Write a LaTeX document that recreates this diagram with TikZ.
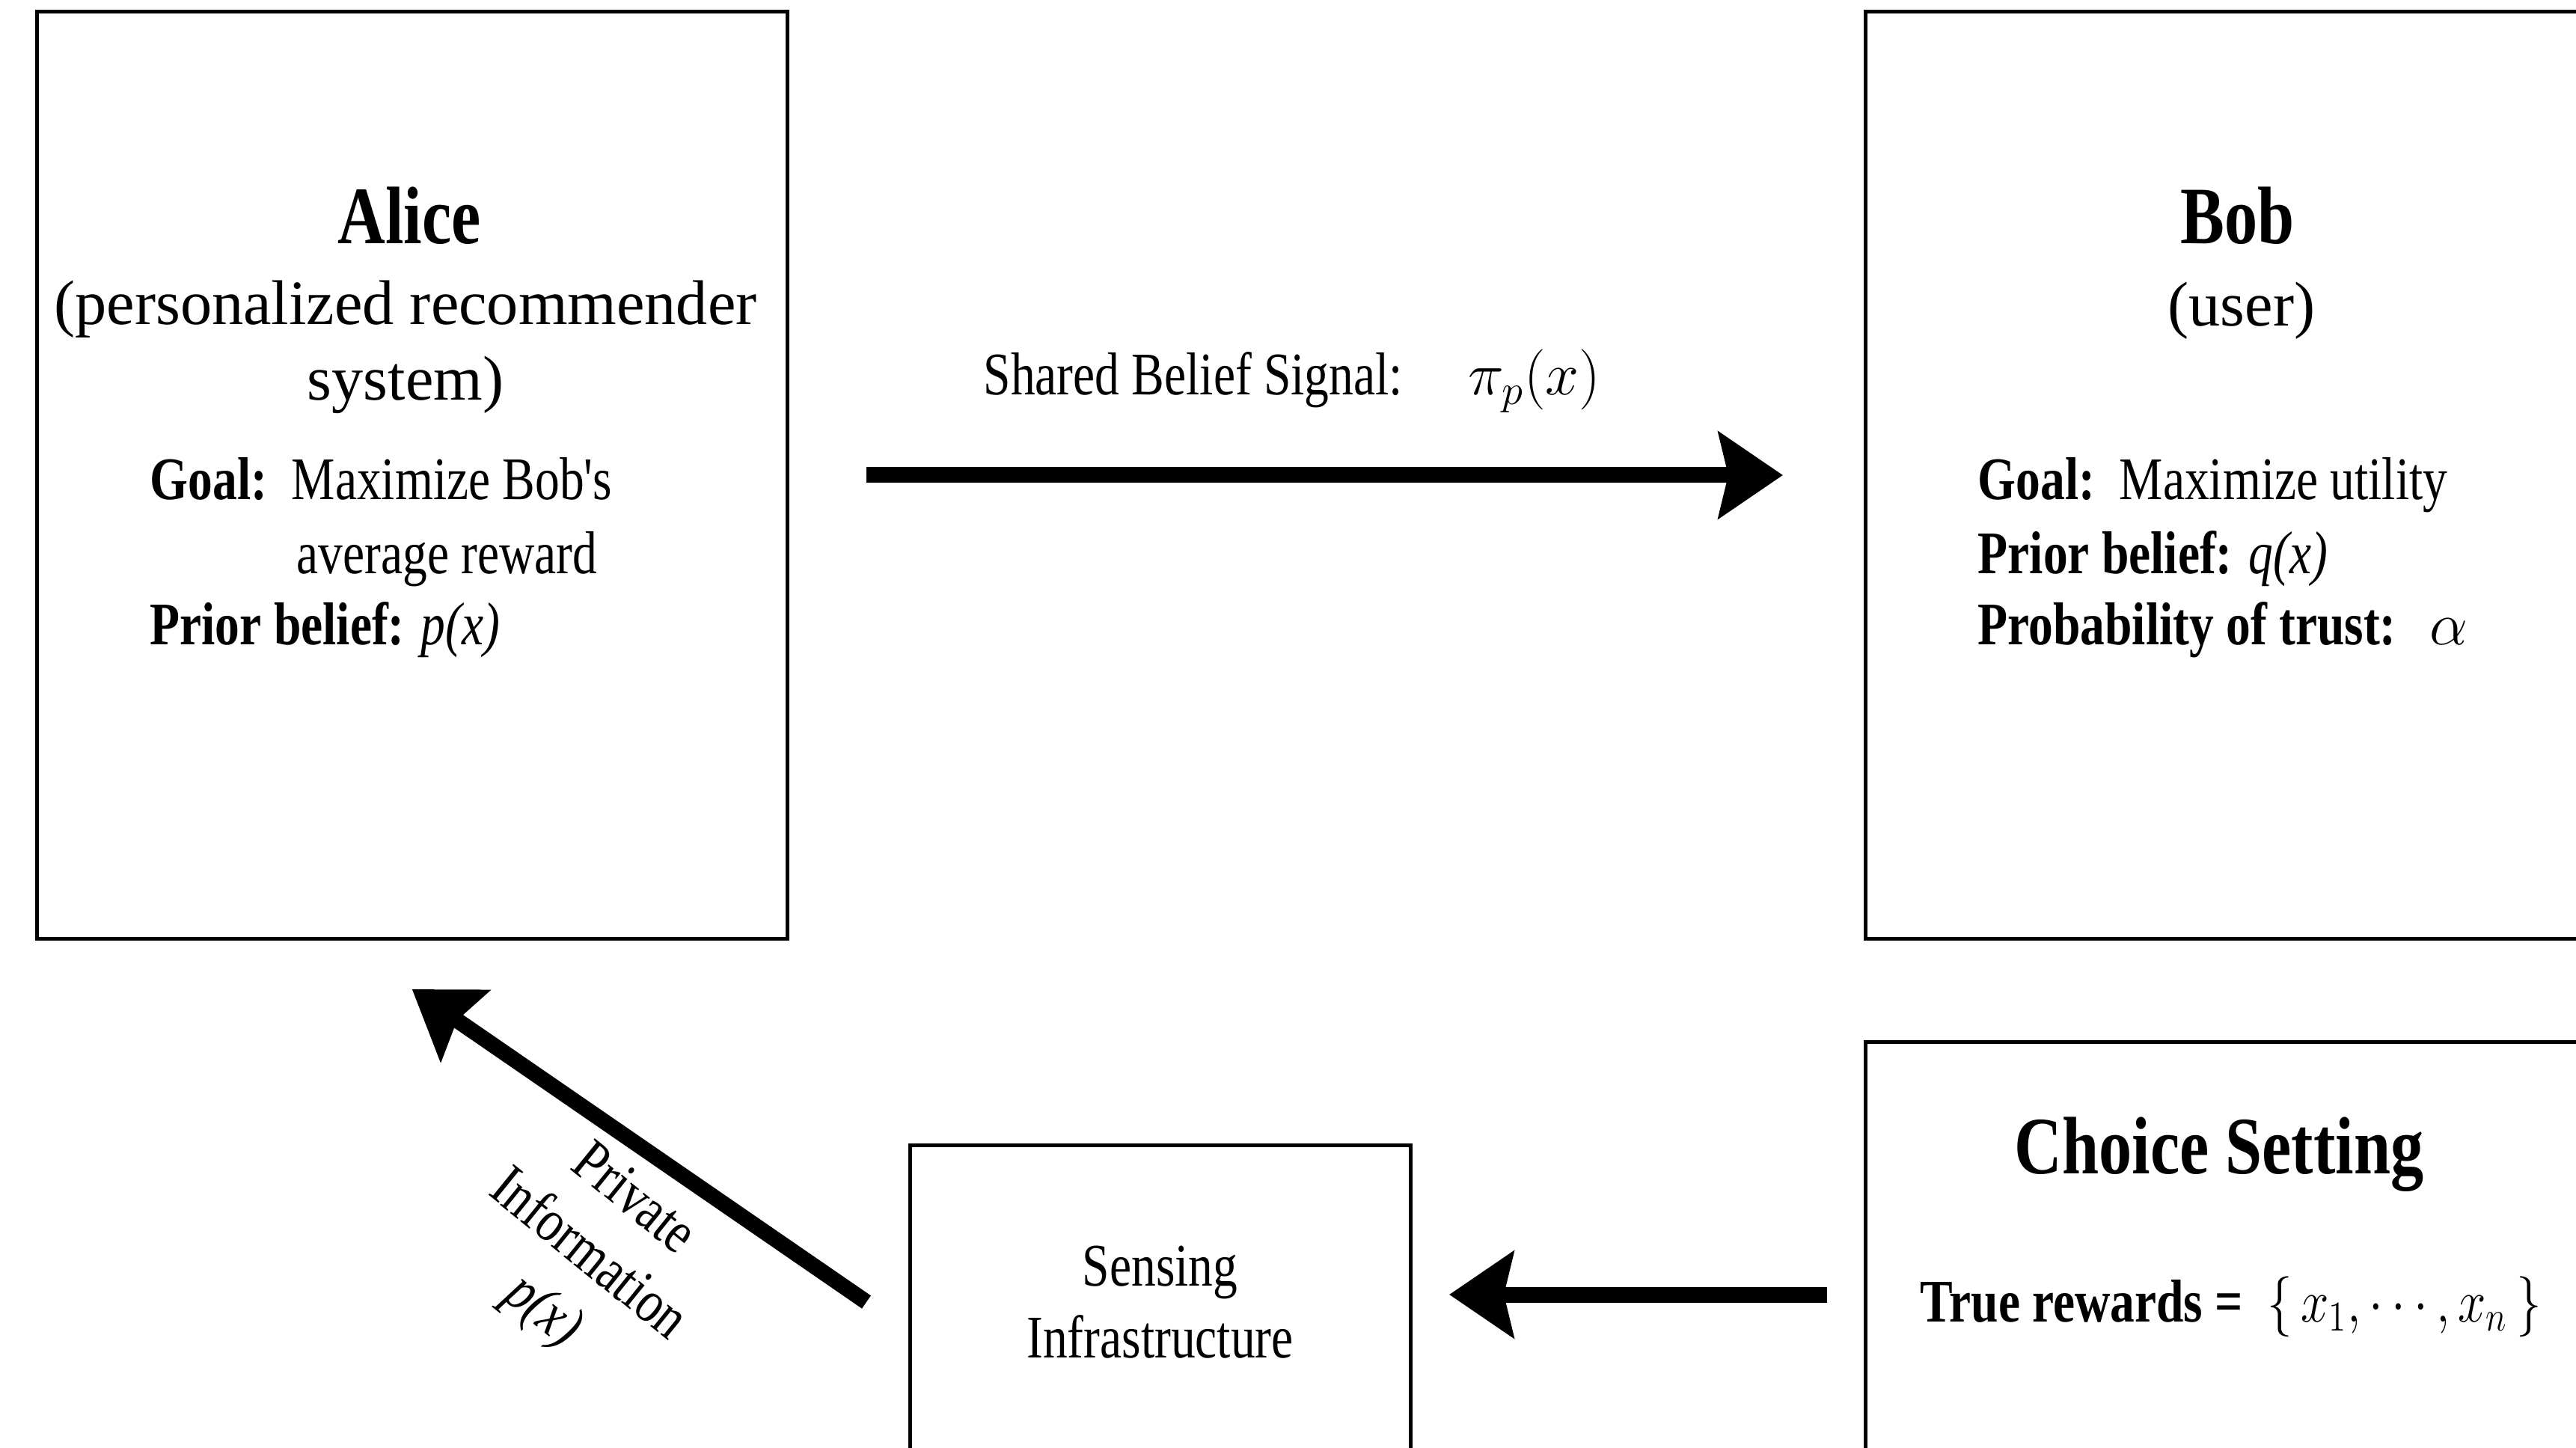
\RequirePackage{fix-cm}
\documentclass[tikz,border=0pt]{standalone}
\usepackage{fontspec}
\setmainfont{Liberation Serif}
\newfontfamily\narrowfont[FakeStretch=0.81]{Liberation Serif}
\usetikzlibrary{calc,arrows.meta}

\begin{document}
\begin{tikzpicture}[
    box/.style={draw,line width=0.05cm,inner sep=0pt,outer sep=0pt},
    bigarrow/.style={line width=0.21cm,-{Stealth[length=0.86cm,width=1.15cm,inset=0.13cm]}},
    titletext/.style={font=\narrowfont\bfseries\fontsize{31}{37}\selectfont,inner sep=0pt,anchor=base},
    roletext/.style={font=\fontsize{24}{28.7}\selectfont,inner sep=0pt,anchor=base},
    bodytext/.style={font=\narrowfont\fontsize{23}{27.3}\selectfont,inner sep=0pt,anchor=base west}
  ]
    \useasboundingbox (0,0) rectangle (34.43,-19.35);
    \fill[white] (0,0) rectangle (34.43,-19.35);
    \clip (0,0) rectangle (34.43,-19.35); % Clips the picture...

    % the four boxes
    \node[box,minimum width=10.025cm,minimum height=12.38cm] (alice) at (5.5075,-6.35) {};
    \node[box,minimum width=10.025cm,minimum height=12.38cm] (bob) at (29.9425,-6.35) {};
    \node[box,minimum width=10.025cm,minimum height=7cm] (choice) at (29.9425,-17.42) {};
    \node[box,minimum width=6.69cm,minimum height=4.2cm,align=center,
          font=\narrowfont\fontsize{23}{27.3}\selectfont] (sensing) at (15.505,-17.40) {Sensing\\Infrastructure};

    % Alice
    \node[titletext] (alicename) at (5.47,-3.26) {Alice};
    \node[roletext] (aliceroleA) at (5.42,-4.34) {(personalized recommender};
    \node[roletext] (aliceroleB) at (5.42,-5.35) {system)};
    \node[bodytext] (alicegoal) at (2.00,-6.68) {\textbf{Goal:}\ \ Maximize Bob's};
    \node[bodytext] (alicegoalB) at (3.96,-7.67) {average reward};
    \node[bodytext] (aliceprior) at (2.00,-8.62) {\textbf{Prior belief:} \textit{p(x)}};

    % Bob
    \node[titletext] (bobname) at (29.91,-3.26) {Bob};
    \node[roletext] (bobrole) at (29.96,-4.36) {(user)};
    \node[bodytext] (bobgoal) at (26.43,-6.68) {\textbf{Goal:}\ \ Maximize utility};
    \node[bodytext] (bobprior) at (26.43,-7.67) {\textbf{Prior belief:} \textit{q(x)}};
    \node[bodytext] (bobtrust) at (26.43,-8.62) {\textbf{Probability of trust:}\hspace{0.45cm}$\alpha$};

    % signal between them
    \node[bodytext] (signal) at (13.14,-5.28) {Shared Belief Signal:};
    \node[bodytext] (signalpi) at (19.62,-5.28) {$\pi_p(x)$};

    % choice setting
    \node[titletext] (choicename) at (29.66,-15.68) {Choice Setting};
    \node[bodytext] (rewards) at (25.66,-17.66)
        {\textbf{True rewards =}\ \ \scalebox{0.83}[1]{$\bigl\{\,x_1,\cdots,x_n\,\bigr\}$}};

    % private information, along the arrow
    \node[font=\narrowfont\fontsize{23}{27.3}\selectfont,align=center,rotate=-39,inner sep=0pt]
        (privinfo) at (7.84,-16.80) {Private\\Information\\\textit{p(x)}};

    % arrows
    \draw[bigarrow] ($(alice.east)+(1.06,0)$) -- ($(bob.west)+(-1.10,0)$);
    \draw[bigarrow] ($(choice.west |- sensing.east)+(-0.51,0.1)$) -- ($(sensing.east)+(0.52,0.1)$);
    \draw[bigarrow] ($(sensing.west)+(-0.58,0)$) -- ($(alice.south)+(0,-0.68)$);
\end{tikzpicture}
\end{document}
